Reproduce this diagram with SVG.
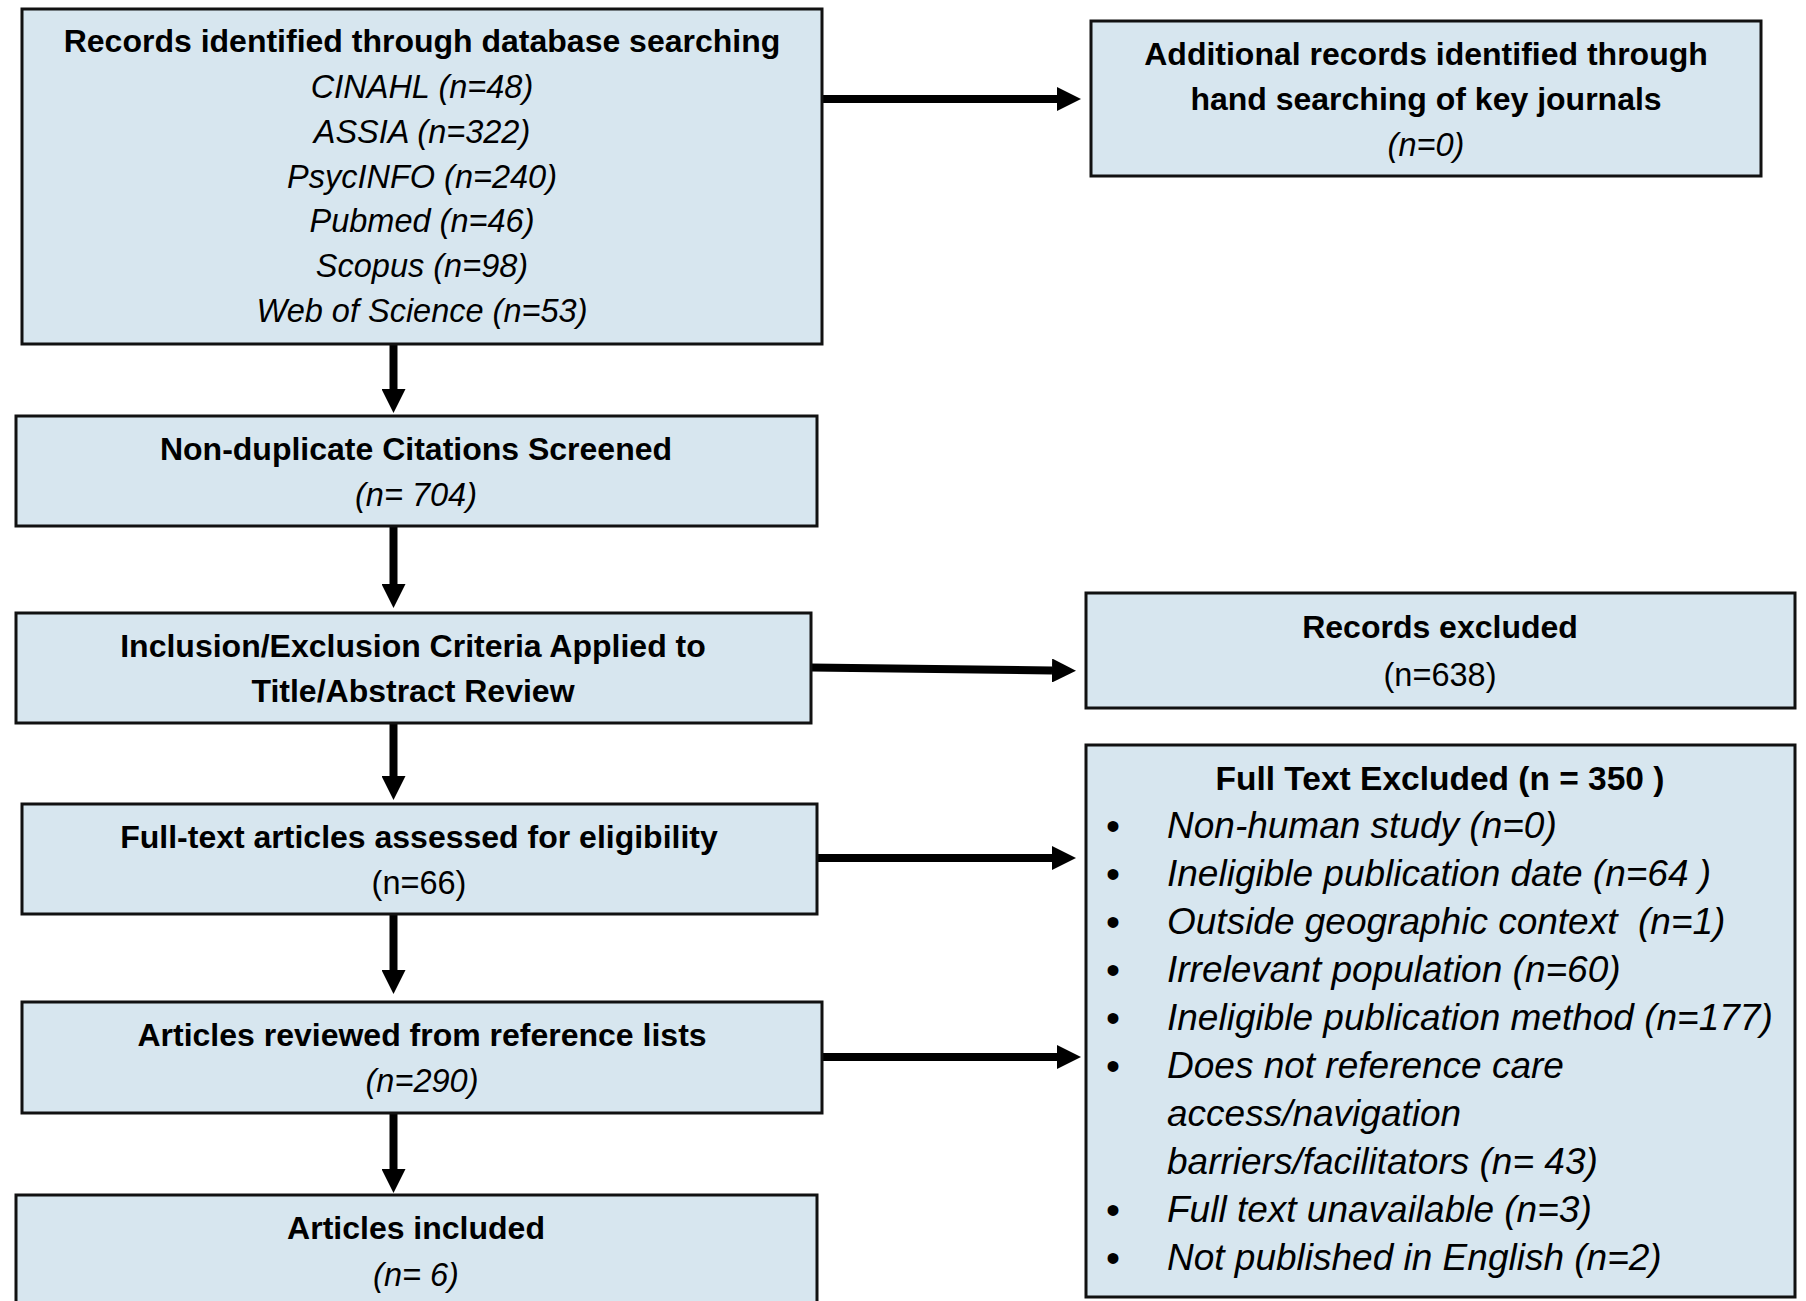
<svg xmlns="http://www.w3.org/2000/svg" width="1806" height="1301" viewBox="0 0 1806 1301">
<defs>
<style>
.box{fill:#d7e6ef;stroke:#111;stroke-width:3}
.t{font-family:'Liberation Sans',Arial,sans-serif;fill:#000;text-anchor:middle}
.b{font-weight:bold;font-size:32px}
.i{font-style:italic;font-size:32.5px}
.r{font-size:32.5px}
.bt{font-weight:bold;font-size:33.5px}
.li{font-family:'Liberation Sans',Arial,sans-serif;font-style:italic;font-size:37px;fill:#000}
.bu{font-family:'Liberation Sans',Arial,sans-serif;font-size:40px;fill:#000;text-anchor:middle}
.c{stroke:#000;stroke-width:8;fill:none}
</style>
<marker id="ah" viewBox="0 0 24 24" refX="0" refY="12" markerWidth="24" markerHeight="24" markerUnits="userSpaceOnUse" orient="auto">
<path d="M0,0 L24,12 L0,24 Z" fill="#000"/>
</marker>
</defs>
<rect width="1806" height="1301" fill="#fff"/>

<g id="connectors">
<line class="c" x1="393.5" y1="345" x2="393.5" y2="389" marker-end="url(#ah)"/>
<line class="c" x1="393.5" y1="527" x2="393.5" y2="584" marker-end="url(#ah)"/>
<line class="c" x1="393.5" y1="723" x2="393.5" y2="776" marker-end="url(#ah)"/>
<line class="c" x1="393.5" y1="914" x2="393.5" y2="970" marker-end="url(#ah)"/>
<line class="c" x1="393.5" y1="1113" x2="393.5" y2="1169" marker-end="url(#ah)"/>
<line class="c" x1="822" y1="99" x2="1057" y2="99" marker-end="url(#ah)"/>
<line class="c" x1="811" y1="667.5" x2="1052" y2="670.5" marker-end="url(#ah)"/>
<line class="c" x1="817" y1="858" x2="1052" y2="858" marker-end="url(#ah)"/>
<line class="c" x1="822" y1="1057" x2="1057" y2="1057" marker-end="url(#ah)"/>
</g>

<g id="records-identified">
<rect class="box" x="22" y="9" width="800" height="335"/>
<text class="t b" x="422" y="52">Records identified through database searching</text>
<text class="t i" x="422" y="98">CINAHL (n=48)</text>
<text class="t i" x="422" y="143">ASSIA (n=322)</text>
<text class="t i" x="422" y="188">PsycINFO (n=240)</text>
<text class="t i" x="422" y="232">Pubmed (n=46)</text>
<text class="t i" x="422" y="277">Scopus (n=98)</text>
<text class="t i" x="422" y="322">Web of Science (n=53)</text>
</g>

<g id="additional-records">
<rect class="box" x="1091" y="21" width="670" height="155"/>
<text class="t b" x="1426" y="65">Additional records identified through</text>
<text class="t b" x="1426" y="110">hand searching of key journals</text>
<text class="t i" x="1426" y="156">(n=0)</text>
</g>

<g id="non-duplicate">
<rect class="box" x="16" y="416" width="801" height="110"/>
<text class="t b" x="416" y="460">Non-duplicate Citations Screened</text>
<text class="t i" x="416" y="506">(n= 704)</text>
</g>

<g id="inclusion-exclusion">
<rect class="box" x="16" y="613" width="795" height="110"/>
<text class="t b" x="413" y="657">Inclusion/Exclusion Criteria Applied to</text>
<text class="t b" x="413" y="702">Title/Abstract Review</text>
</g>

<g id="records-excluded">
<rect class="box" x="1086" y="593" width="709" height="115"/>
<text class="t b" x="1440" y="638">Records excluded</text>
<text class="t r" x="1440" y="686">(n=638)</text>
</g>

<g id="full-text-assessed">
<rect class="box" x="22" y="804" width="795" height="110"/>
<text class="t b" x="419" y="848">Full-text articles assessed for eligibility</text>
<text class="t r" x="419" y="894">(n=66)</text>
</g>

<g id="articles-reviewed">
<rect class="box" x="22" y="1002" width="800" height="111"/>
<text class="t b" x="422" y="1046">Articles reviewed from reference lists</text>
<text class="t i" x="422" y="1092">(n=290)</text>
</g>

<g id="articles-included">
<rect class="box" x="16" y="1195" width="801" height="115"/>
<text class="t b" x="416" y="1239">Articles included</text>
<text class="t i" x="416" y="1286">(n= 6)</text>
</g>

<g id="full-text-excluded">
<rect class="box" x="1086" y="745" width="709" height="552"/>
<text class="t bt" x="1440" y="790">Full Text Excluded (n = 350 )</text>
<text class="bu" x="1113" y="840">•</text>
<text class="li" x="1167" y="838">Non-human study (n=0)</text>
<text class="bu" x="1113" y="888">•</text>
<text class="li" x="1167" y="886">Ineligible publication date (n=64 )</text>
<text class="bu" x="1113" y="936">•</text>
<text class="li" x="1167" y="934" xml:space="preserve">Outside geographic context  (n=1)</text>
<text class="bu" x="1113" y="984">•</text>
<text class="li" x="1167" y="982">Irrelevant population (n=60)</text>
<text class="bu" x="1113" y="1032">•</text>
<text class="li" x="1167" y="1030">Ineligible publication method (n=177)</text>
<text class="bu" x="1113" y="1080">•</text>
<text class="li" x="1167" y="1078">Does not reference care</text>
<text class="li" x="1167" y="1126">access/navigation</text>
<text class="li" x="1167" y="1174">barriers/facilitators (n= 43)</text>
<text class="bu" x="1113" y="1224">•</text>
<text class="li" x="1167" y="1222">Full text unavailable (n=3)</text>
<text class="bu" x="1113" y="1272">•</text>
<text class="li" x="1167" y="1270">Not published in English (n=2)</text>
</g>
</svg>
